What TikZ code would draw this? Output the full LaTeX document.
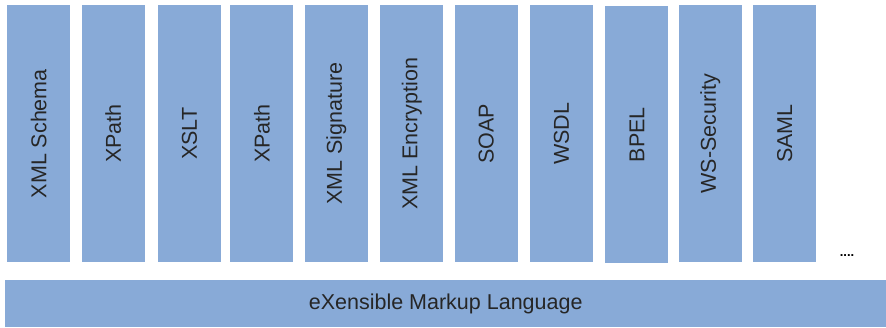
\documentclass[tikz,border=0pt]{standalone}
\usepackage{fontspec}
\setmainfont{Liberation Sans}
\usepackage{tikz}
\usetikzlibrary{positioning}
\definecolor{stackblue}{HTML}{88AAD7}
\newcommand{\up}[1]{\rotatebox{90}{#1}}

\begin{document}
\begin{tikzpicture}[
  col/.style={fill=stackblue, inner sep=0pt, minimum width=63pt, minimum height=257pt, text=black!85, font=\fontsize{21.5}{24}\selectfont},
  bar/.style={fill=stackblue, inner sep=0pt, minimum width=881pt, minimum height=47pt, text=black!85, font=\fontsize{21.5}{24}\selectfont}]
\useasboundingbox (0,0) rectangle (886pt,-328pt);
\node[col, anchor=north west] (schema) at (7pt,-5pt) {\up{XML Schema}};
\node[col, right=11pt of schema] (xpath) {\up{XPath}};
\node[col, right=13pt of xpath] (xslt) {\up{XSLT}};
\node[col, right=9pt of xslt] (xpath2) {\up{XPath}};
\node[col, right=11pt of xpath2] (sig) {\up{XML Signature}};
\node[col, right=12pt of sig] (enc) {\up{XML Encryption}};
\node[col, right=11pt of enc] (soap) {\up{SOAP}};
\node[col, right=12pt of soap] (wsdl) {\up{WSDL}};
\node[col, right=12pt of wsdl, yshift=-1pt] (bpel) {\up{BPEL}};
\node[col, right=10pt of bpel, yshift=1pt] (wssec) {\up{WS-Security}};
\node[col, right=11pt of wssec] (saml) {\up{SAML}};
\node[font=\fontsize{13}{14}\selectfont\bfseries, inner sep=0pt] (dots) at (847pt,-256pt) {....};
\node[bar, anchor=north west] (xml) at (5pt,-280pt) {eXensible Markup Language};
\end{tikzpicture}
\end{document}
